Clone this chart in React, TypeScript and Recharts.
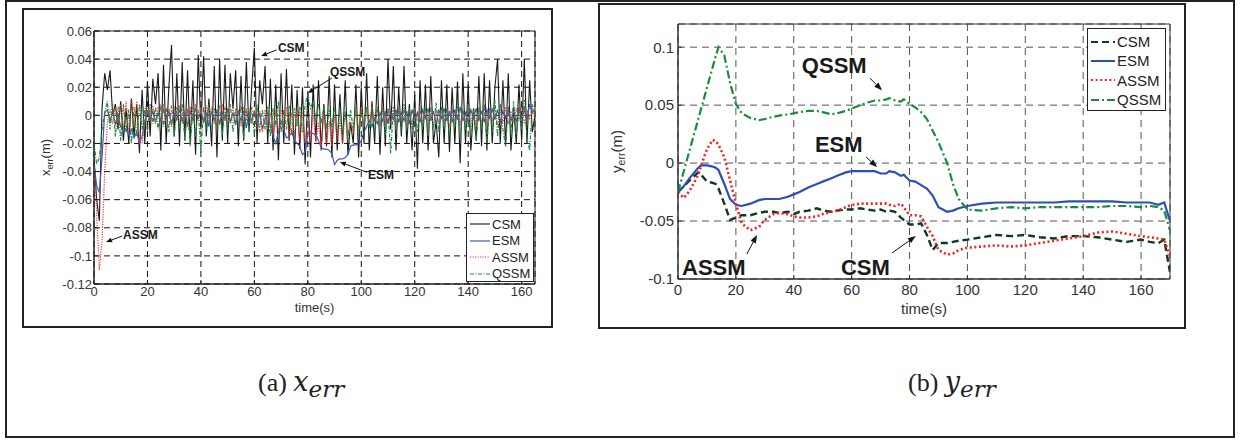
import React from 'react';
import { LineChart, Line, XAxis, YAxis, CartesianGrid, ReferenceLine, ReferenceDot, ReferenceArea, Legend } from 'recharts';

// ---------- (a) x_err : sampled every 1 s, t = 0..165 ----------
const xCSM = [
  -0.03, -0.06, -0.075, 0.005, 0.03, 0.018, 0.032, 0.0, 0.008, -0.01,
  0.01, -0.018, 0.005, -0.02, 0.012, -0.015, 0.008, -0.027, 0.018, -0.02,
  0.024, -0.015, 0.026, 0.008, 0.03, -0.025, 0.036, -0.02, 0.02, 0.05,
  -0.015, 0.03, -0.022, 0.038, -0.018, 0.032, -0.02, 0.025, -0.028, 0.043,
  -0.01, 0.042, -0.015, 0.012, -0.022, 0.035, -0.03, 0.04, -0.018, 0.036,
  -0.02, 0.03, 0.005, 0.032, -0.022, 0.028, -0.018, 0.038, -0.012, 0.02,
  0.048, -0.02, 0.025, 0.008, 0.035, -0.02, 0.026, -0.025, 0.022, -0.032,
  0.03, -0.02, 0.033, -0.018, 0.022, -0.028, 0.018, -0.024, 0.02, -0.035,
  0.016, -0.03, 0.022, -0.018, 0.025, -0.025, 0.008, -0.022, 0.028, -0.03,
  0.022, -0.025, 0.015, -0.02, 0.025, -0.028, -0.005, -0.02, 0.022, -0.03,
  0.02, -0.02, 0.03, -0.025, 0.01, -0.02, 0.028, -0.028, 0.02, -0.022,
  0.04, -0.01, 0.035, -0.025, 0.02, -0.015, 0.035, -0.02, 0.008, -0.025,
  0.015, -0.038, 0.025, -0.02, 0.022, -0.025, 0.028, -0.02, -0.004, -0.03,
  0.025, -0.02, 0.022, -0.026, 0.02, -0.02, 0.024, -0.034, 0.03, -0.02,
  0.022, -0.025, 0.005, -0.018, 0.028, -0.022, 0.03, -0.025, 0.025, -0.02,
  0.02, 0.04, -0.02, 0.025, -0.022, 0.03, -0.025, 0.006, -0.02, 0.022,
  -0.018, 0.04, -0.02, 0.025, -0.012, 0.0,
];
const xESM = [
  -0.035, -0.05, -0.055, -0.03, 0.002, 0.004, -0.004, 0.002, -0.006, 0.0,
  -0.008, -0.012, -0.01, -0.014, -0.01, -0.016, -0.012, -0.02, -0.015, -0.004,
  0.002, -0.003, 0.003, -0.005, 0.002, -0.004, 0.004, -0.002, 0.003, -0.006,
  0.002, -0.003, 0.004, -0.004, 0.002, -0.008, 0.003, -0.004, 0.005, -0.002,
  0.003, -0.005, 0.002, -0.008, 0.003, -0.004, 0.004, -0.006, 0.002, -0.003,
  0.004, -0.005, 0.002, -0.007, 0.003, -0.004, 0.003, -0.009, 0.002, -0.004,
  0.003, -0.006, 0.002, -0.01, -0.003, 0.002, -0.008, -0.015, -0.02, -0.012,
  -0.004, -0.01, -0.016, -0.015, -0.012, -0.018, -0.02, -0.022, -0.028, -0.026,
  -0.013, -0.012, -0.013, -0.014, -0.018, -0.023, -0.024, -0.024, -0.025, -0.027,
  -0.035, -0.032, -0.031, -0.031, -0.03, -0.028, -0.022, -0.021, -0.021, -0.02,
  -0.018, -0.012, -0.008, -0.004, -0.008, -0.002, -0.006, 0.002, -0.004, 0.003,
  -0.006, 0.002, -0.003, 0.004, -0.005, 0.002, -0.004, 0.003, -0.006, 0.004,
  -0.003, 0.002, -0.005, 0.004, -0.002, 0.005, -0.004, 0.003, -0.006, 0.004,
  -0.002, 0.005, -0.004, 0.003, -0.005, 0.004, -0.003, 0.006, -0.004, 0.002,
  -0.005, 0.004, -0.002, 0.005, -0.004, 0.003, -0.005, 0.004, -0.002, 0.005,
  -0.003, 0.004, -0.005, 0.003, -0.002, 0.004, -0.004, 0.003, -0.005, 0.006,
  -0.002, 0.004, -0.003, 0.008, 0.002, 0.004,
];
const xASSM = [
  -0.03, -0.07, -0.11, -0.09, -0.04, -0.005, 0.004, -0.006, 0.006, -0.008,
  0.008, -0.01, 0.01, -0.012, 0.011, -0.008, 0.01, -0.018, -0.02, -0.006,
  0.005, -0.004, 0.007, -0.006, 0.006, -0.004, 0.008, -0.006, 0.005, -0.008,
  0.006, -0.004, 0.007, -0.006, 0.004, -0.008, 0.006, -0.005, 0.008, -0.004,
  0.005, -0.006, 0.007, -0.004, 0.006, -0.006, 0.004, -0.007, 0.008, -0.004,
  0.005, -0.006, 0.006, -0.005, 0.004, -0.008, 0.006, -0.004, 0.005, -0.006,
  0.004, -0.01, 0.003, -0.012, 0.004, -0.01, 0.002, -0.014, 0.003, -0.012,
  0.004, -0.01, 0.006, -0.014, 0.002, -0.016, 0.004, -0.018, 0.002, -0.02,
  -0.005, -0.018, 0.003, -0.02, -0.005, -0.022, 0.002, -0.02, -0.004, -0.022,
  0.0, -0.018, -0.004, -0.02, 0.002, -0.015, -0.005, -0.012, 0.004, -0.01,
  0.006, -0.008, 0.005, -0.006, 0.007, -0.005, 0.004, -0.008, 0.006, -0.005,
  0.005, -0.006, 0.004, -0.007, 0.006, -0.004, 0.005, -0.008, 0.004, -0.006,
  0.005, -0.004, 0.006, -0.007, 0.004, -0.005, 0.006, -0.008, 0.003, -0.006,
  0.005, -0.005, 0.004, -0.008, 0.005, -0.004, 0.006, -0.007, 0.003, -0.005,
  0.006, -0.004, 0.005, -0.008, 0.004, -0.005, 0.006, -0.006, 0.003, -0.004,
  0.005, -0.007, 0.004, -0.005, 0.006, -0.006, 0.003, -0.005, 0.005, -0.004,
  0.006, -0.006, 0.004, -0.003, 0.005, -0.002,
];
const xQSSM = [
  -0.02, -0.035, -0.03, -0.01, 0.002, 0.01, -0.01, 0.008, -0.015, 0.006,
  -0.018, 0.008, -0.012, 0.004, -0.02, 0.006, -0.015, 0.008, -0.01, 0.005,
  -0.012, 0.008, -0.006, 0.006, -0.01, 0.008, -0.008, 0.005, -0.012, 0.007,
  -0.015, 0.006, -0.01, 0.008, -0.018, 0.005, -0.022, 0.006, -0.015, 0.004,
  -0.027, 0.006, -0.01, 0.008, -0.012, 0.005, -0.008, 0.007, -0.014, 0.006,
  -0.01, 0.008, -0.012, 0.005, -0.008, 0.007, -0.016, 0.005, -0.01, 0.006,
  -0.014, 0.008, -0.012, 0.004, -0.01, 0.006, -0.015, 0.005, -0.008, 0.01,
  -0.012, 0.004, -0.01, 0.007, -0.014, 0.005, -0.008, 0.006, -0.012, 0.008,
  0.015, 0.005, 0.01, -0.004, 0.008, -0.006, 0.006, -0.01, 0.004, -0.008,
  0.006, -0.012, 0.004, -0.015, 0.003, -0.018, 0.004, -0.01, 0.006, -0.015,
  0.004, -0.008, 0.006, -0.01, 0.005, -0.012, 0.006, -0.008, 0.004, -0.014,
  0.005, -0.027, 0.006, -0.01, 0.005, -0.012, 0.008, -0.008, 0.005, -0.01,
  0.006, -0.012, 0.004, -0.008, 0.007, -0.015, 0.005, -0.01, 0.009, -0.012,
  0.006, -0.01, 0.005, -0.014, 0.004, -0.008, 0.01, -0.016, 0.005, -0.01,
  0.008, -0.012, 0.004, -0.018, 0.006, -0.01, 0.008, -0.02, 0.005, -0.012,
  0.011, -0.015, 0.008, -0.01, -0.022, 0.006, -0.012, 0.01, -0.014, 0.005,
  -0.01, 0.011, -0.016, -0.025, 0.008, 0.002,
];
const xTicks = [0, 20, 40, 60, 80, 100, 120, 140, 160];
const xYTicks = [-0.12, -0.1, -0.08, -0.06, -0.04, -0.02, 0, 0.02, 0.04, 0.06];

// ---------- (b) y_err ----------
const yTime = [0, 2, 4, 7, 8, 10, 12, 13, 14, 16, 18, 20, 22, 25, 28, 30, 33, 35, 38, 40, 42, 45, 48, 50, 53, 55, 58, 60, 63, 65, 68, 70, 72, 73, 75, 77, 78, 80, 82, 84, 86, 88, 90, 93, 95, 97, 100, 105, 110, 115, 120, 125, 130, 135, 140, 145, 150, 155, 160, 163, 166, 168, 170];
const yCSM = [-0.025, -0.02, -0.015, -0.008, -0.01, -0.016, -0.017, -0.018, -0.022, -0.035, -0.049, -0.047, -0.045, -0.045, -0.043, -0.042, -0.042, -0.043, -0.042, -0.044, -0.042, -0.041, -0.039, -0.041, -0.042, -0.041, -0.04, -0.04, -0.039, -0.04, -0.041, -0.04, -0.042, -0.041, -0.042, -0.047, -0.049, -0.053, -0.053, -0.052, -0.062, -0.075, -0.069, -0.069, -0.068, -0.067, -0.066, -0.064, -0.062, -0.063, -0.062, -0.064, -0.065, -0.063, -0.063, -0.064, -0.066, -0.068, -0.066, -0.068, -0.069, -0.066, -0.094];
const yESM = [-0.025, -0.02, -0.013, -0.004, -0.002, -0.002, -0.003, -0.004, -0.006, -0.018, -0.031, -0.036, -0.037, -0.035, -0.032, -0.031, -0.031, -0.031, -0.029, -0.027, -0.025, -0.021, -0.018, -0.016, -0.013, -0.011, -0.008, -0.007, -0.007, -0.007, -0.007, -0.009, -0.009, -0.007, -0.008, -0.011, -0.01, -0.015, -0.016, -0.019, -0.022, -0.028, -0.038, -0.042, -0.041, -0.039, -0.037, -0.035, -0.034, -0.034, -0.034, -0.034, -0.034, -0.033, -0.033, -0.033, -0.033, -0.034, -0.034, -0.034, -0.036, -0.034, -0.05];
const yASSM = [-0.025, -0.03, -0.024, -0.01, -0.002, 0.012, 0.02, 0.019, 0.016, 0.005, -0.015, -0.035, -0.052, -0.058, -0.055, -0.049, -0.044, -0.043, -0.044, -0.046, -0.047, -0.047, -0.046, -0.044, -0.042, -0.041, -0.038, -0.036, -0.035, -0.035, -0.035, -0.035, -0.035, -0.036, -0.037, -0.035, -0.038, -0.045, -0.045, -0.046, -0.055, -0.063, -0.075, -0.079, -0.078, -0.075, -0.073, -0.072, -0.071, -0.072, -0.071, -0.069, -0.067, -0.065, -0.063, -0.06, -0.059, -0.061, -0.063, -0.064, -0.065, -0.066, -0.08];
const yQSSM = [-0.025, -0.007, 0.011, 0.038, 0.047, 0.065, 0.083, 0.092, 0.1, 0.093, 0.069, 0.051, 0.043, 0.039, 0.037, 0.038, 0.04, 0.041, 0.042, 0.043, 0.044, 0.045, 0.045, 0.044, 0.042, 0.043, 0.045, 0.047, 0.05, 0.052, 0.054, 0.054, 0.055, 0.056, 0.054, 0.053, 0.055, 0.051, 0.048, 0.044, 0.038, 0.028, 0.018, 0.0, -0.018, -0.031, -0.04, -0.041, -0.039, -0.038, -0.039, -0.038, -0.038, -0.038, -0.038, -0.038, -0.037, -0.037, -0.038, -0.037, -0.038, -0.041, -0.058];
const yTicksX = [0, 20, 40, 60, 80, 100, 120, 140, 160];
const yYTicks = [-0.1, -0.05, 0, 0.05, 0.1];

// annotations (data coordinates): text anchor, arrow tail, arrow tip
const notesA = [
  { text: 'CSM', tx: 68.8, ty: 0.0479, fx: 68.3, fy: 0.0465, ax: 62.5, ay: 0.0422 },
  { text: 'QSSM', tx: 88.3, ty: 0.0308, fx: 89, fy: 0.0265, ax: 80, ay: 0.0159 },
  { text: 'ESM', tx: 102.5, ty: -0.0425, fx: 102.1, fy: -0.0405, ax: 92, ay: -0.0332 },
  { text: 'ASSM', tx: 10.85, ty: -0.0852, fx: 10.5, fy: -0.0859, ax: 4.5, ay: -0.0902 },
];
const notesB = [
  { text: 'QSSM', tx: 42.8, ty: 0.0845, fx: 66.3, fy: 0.0733, ax: 70.5, ay: 0.0629 },
  { text: 'ESM', tx: 47.3, ty: 0.0164, fx: 65, fy: 0.0052, ax: 68.8, ay: -0.0034 },
  { text: 'ASSM', tx: 1.4, ty: -0.0897, fx: 23.8, fy: -0.0784, ax: 27.3, ay: -0.062 },
  { text: 'CSM', tx: 56.3, ty: -0.0897, fx: 73.9, fy: -0.0776, ax: 82.2, ay: -0.0629 },
];

const rowsA = xCSM.map((v, i) => ({ t: i, CSM: v, ESM: xESM[i], ASSM: xASSM[i], QSSM: xQSSM[i] }));
const rowsB = yTime.map((t, i) => ({ t, CSM: yCSM[i], ESM: yESM[i], ASSM: yASSM[i], QSSM: yQSSM[i] }));

const styleA = [
  { key: 'CSM', color: '#1a1a1a', dash: undefined, w: 1.1 },
  { key: 'ESM', color: '#3c5ab4', dash: undefined, w: 1.2 },
  { key: 'ASSM', color: '#ff3030', dash: '1.2 1.3', w: 1.2 },
  { key: 'QSSM', color: '#1f8c3e', dash: '4 1.5 1 1.5', w: 1.2 },
];
const styleB = [
  { key: 'CSM', color: '#0e3a1f', dash: '7 4', w: 2.4 },
  { key: 'ESM', color: '#2d4fb2', dash: undefined, w: 2.2 },
  { key: 'ASSM', color: '#f22222', dash: '2 2.6', w: 2.6 },
  { key: 'QSSM', color: '#1a8c3a', dash: '8 3 2 3', w: 2.2 },
];

const fmt = (v: number) => String(Number(v.toFixed(2)));
const FONT = '"Liberation Sans", Arial, sans-serif';

const makeArrow = (L: number, W: number, sw: number) => (p: any) => {
  const { x1, y1, x2, y2 } = p;
  const ang = Math.atan2(y2 - y1, x2 - x1);
  const bx = x2 - L * Math.cos(ang);
  const by = y2 - L * Math.sin(ang);
  const px = -Math.sin(ang) * W;
  const py = Math.cos(ang) * W;
  return (
    <g>
      <line x1={x1} y1={y1} x2={bx} y2={by} stroke="#111" strokeWidth={sw} />
      <polygon points={`${x2},${y2} ${bx + px},${by + py} ${bx - px},${by - py}`} fill="#111" />
    </g>
  );
};

const makeNoteText = (text: string, size: number) => (p: any) => (
  <text x={p.cx} y={p.cy} fontFamily={FONT} fontWeight="bold" fontSize={size} fill="#1a1a1a" dominantBaseline="central">
    {text}
  </text>
);

const LegendBox = (items: any[], opts: { w: number; h: number; rowH: number; sample: number; fs: number; pad: string }) => () => (
  <div style={{ width: opts.w, height: opts.h, boxSizing: 'border-box', border: '1px solid #222', background: '#fff', padding: opts.pad, fontFamily: FONT }}>
    {items.map((it) => (
      <div key={it.key} style={{ display: 'flex', alignItems: 'center', height: opts.rowH }}>
        <svg width={opts.sample} height={8} style={{ display: 'block' }}>
          <line x1={0} y1={4} x2={opts.sample} y2={4} stroke={it.color} strokeWidth={Math.min(it.w, 2)} strokeDasharray={it.dash} />
        </svg>
        <span style={{ marginLeft: 2, fontSize: opts.fs, color: '#222', lineHeight: 1 }}>{it.key}</span>
      </div>
    ))}
  </div>
);

const YLabel = (name: string, fs: number, dx: number) => (p: any) => {
  const vb = p.viewBox || {};
  const x = vb.x + dx;
  const y = vb.y + vb.height / 2;
  return (
    <text x={x} y={y} transform={`rotate(-90, ${x}, ${y})`} textAnchor="middle" fontFamily={FONT} fontSize={fs} fill="#333">
      {name}
      <tspan dy={3} fontSize={fs * 0.7}>err</tspan>
      <tspan dy={-3}>(m)</tspan>
    </text>
  );
};
const XLabel = (fs: number, dy: number) => (p: any) => {
  const vb = p.viewBox || {};
  return (
    <text x={vb.x + vb.width / 2} y={vb.y + dy} textAnchor="middle" dominantBaseline="central" fontFamily={FONT} fontSize={fs} fill="#333">
      time(s)
    </text>
  );
};

const capBase = { position: 'absolute' as const, top: 366, fontFamily: '"Liberation Serif", serif', fontSize: 26, color: '#222', whiteSpace: 'nowrap' as const };
const capVar = { fontFamily: '"DejaVu Serif", serif', fontStyle: 'italic' as const, fontSize: 27 };
const capSub = { fontFamily: '"DejaVu Serif", serif', fontStyle: 'italic' as const, fontSize: 23, verticalAlign: '-6px' };

export default function App() {
  return (
    <div style={{ position: 'absolute', left: 0, top: 0, width: 1248, height: 443, background: '#fff', overflow: 'hidden' }}>
      {/* outer frame */}
      <div style={{ position: 'absolute', left: 5, top: 0, width: 1230, height: 438, boxSizing: 'border-box', border: '2px solid #222' }} />
      {/* panel frames */}
      <div style={{ position: 'absolute', left: 22, top: 8, width: 531, height: 320, boxSizing: 'border-box', border: '2px solid #222' }} />
      <div style={{ position: 'absolute', left: 598, top: 3, width: 588, height: 326, boxSizing: 'border-box', border: '2px solid #222' }} />

      {/* (a) */}
      <div style={{ position: 'absolute', left: 0, top: 0 }}>
        <LineChart width={560} height={330} data={rowsA} margin={{ top: 31, right: 25, bottom: 16, left: 34 }}>
          <CartesianGrid stroke="#111" strokeDasharray="6 4" strokeWidth={1} />
          <XAxis dataKey="t" type="number" domain={[0, 165]} ticks={xTicks} interval={0} height={30} tickSize={-4} tickMargin={7}
            stroke="#222" tick={{ fill: '#333', fontSize: 13, fontFamily: FONT }} allowDataOverflow
            label={{ content: XLabel(13, 23) } as any} />
          <YAxis type="number" domain={[-0.12, 0.06]} ticks={xYTicks} interval={0} width={60} tickSize={-4} tickMargin={6}
            stroke="#222" tick={{ fill: '#333', fontSize: 13, fontFamily: FONT }} tickFormatter={fmt} allowDataOverflow
            label={{ content: YLabel('x', 13, 16) } as any} />
          <ReferenceArea x1={0} x2={165} y1={-0.12} y2={0.06} fill="none" stroke="#222" strokeWidth={1} ifOverflow="visible" />
          {styleA.map((s) => (
            <Line key={s.key} dataKey={s.key} type="linear" stroke={s.color} strokeWidth={s.w} strokeDasharray={s.dash} dot={false} isAnimationActive={false} />
          ))}
          {notesA.map((n) => (
            <ReferenceLine key={'la' + n.text} segment={[{ x: n.fx, y: n.fy }, { x: n.ax, y: n.ay }]} ifOverflow="visible" shape={makeArrow(6, 2.5, 1)} />
          ))}
          {notesA.map((n) => (
            <ReferenceDot key={'ta' + n.text} x={n.tx} y={n.ty} r={1} ifOverflow="visible" shape={makeNoteText(n.text, 12)} />
          ))}
          <Legend layout="vertical" align="center" verticalAlign="middle"
            wrapperStyle={{ left: 466, top: 213, width: 68, height: 69 }}
            content={LegendBox(styleA, { w: 68, h: 69, rowH: 16.5, sample: 20, fs: 13, pad: '2px 0 0 3px' })} />
        </LineChart>
      </div>

      {/* (b) */}
      <div style={{ position: 'absolute', left: 600, top: 0 }}>
        <LineChart width={600} height={330} data={rowsB} margin={{ top: 24, right: 30, bottom: 21, left: 18 }}>
          <CartesianGrid stroke="#555" strokeDasharray="7 5" strokeWidth={1} />
          <XAxis dataKey="t" type="number" domain={[0, 170]} ticks={yTicksX} interval={0} height={30} tickSize={-4} tickMargin={9}
            stroke="#333" tick={{ fill: '#333', fontSize: 15, fontFamily: FONT }} allowDataOverflow
            label={{ content: XLabel(15, 29) } as any} />
          <YAxis type="number" domain={[-0.1, 0.12]} ticks={yYTicks} interval={0} width={60} tickSize={-4} tickMargin={8}
            stroke="#333" tick={{ fill: '#333', fontSize: 15, fontFamily: FONT }} tickFormatter={fmt} allowDataOverflow
            label={{ content: YLabel('y', 15, 4) } as any} />
          <ReferenceArea x1={0} x2={170} y1={-0.1} y2={0.12} fill="none" stroke="#333" strokeWidth={1} ifOverflow="visible" />
          {styleB.map((s) => (
            <Line key={s.key} dataKey={s.key} type="linear" stroke={s.color} strokeWidth={s.w} strokeDasharray={s.dash} dot={false} isAnimationActive={false} />
          ))}
          {notesB.map((n) => (
            <ReferenceLine key={'lb' + n.text} segment={[{ x: n.fx, y: n.fy }, { x: n.ax, y: n.ay }]} ifOverflow="visible" shape={makeArrow(8, 3, 1)} />
          ))}
          {notesB.map((n) => (
            <ReferenceDot key={'tb' + n.text} x={n.tx} y={n.ty} r={1} ifOverflow="visible" shape={makeNoteText(n.text, 22)} />
          ))}
          <Legend layout="vertical" align="center" verticalAlign="middle"
            wrapperStyle={{ left: 487, top: 28, width: 79, height: 83 }}
            content={LegendBox(styleB, { w: 79, h: 83, rowH: 19.3, sample: 24, fs: 15, pad: '3px 0 0 3px' })} />
        </LineChart>
      </div>

      {/* captions */}
      <div style={{ ...capBase, left: 258 }}>
        (a) <span style={capVar}>x</span><sub style={capSub}>err</sub>
      </div>
      <div style={{ ...capBase, left: 908 }}>
        (b) <span style={capVar}>y</span><sub style={capSub}>err</sub>
      </div>
    </div>
  );
}
